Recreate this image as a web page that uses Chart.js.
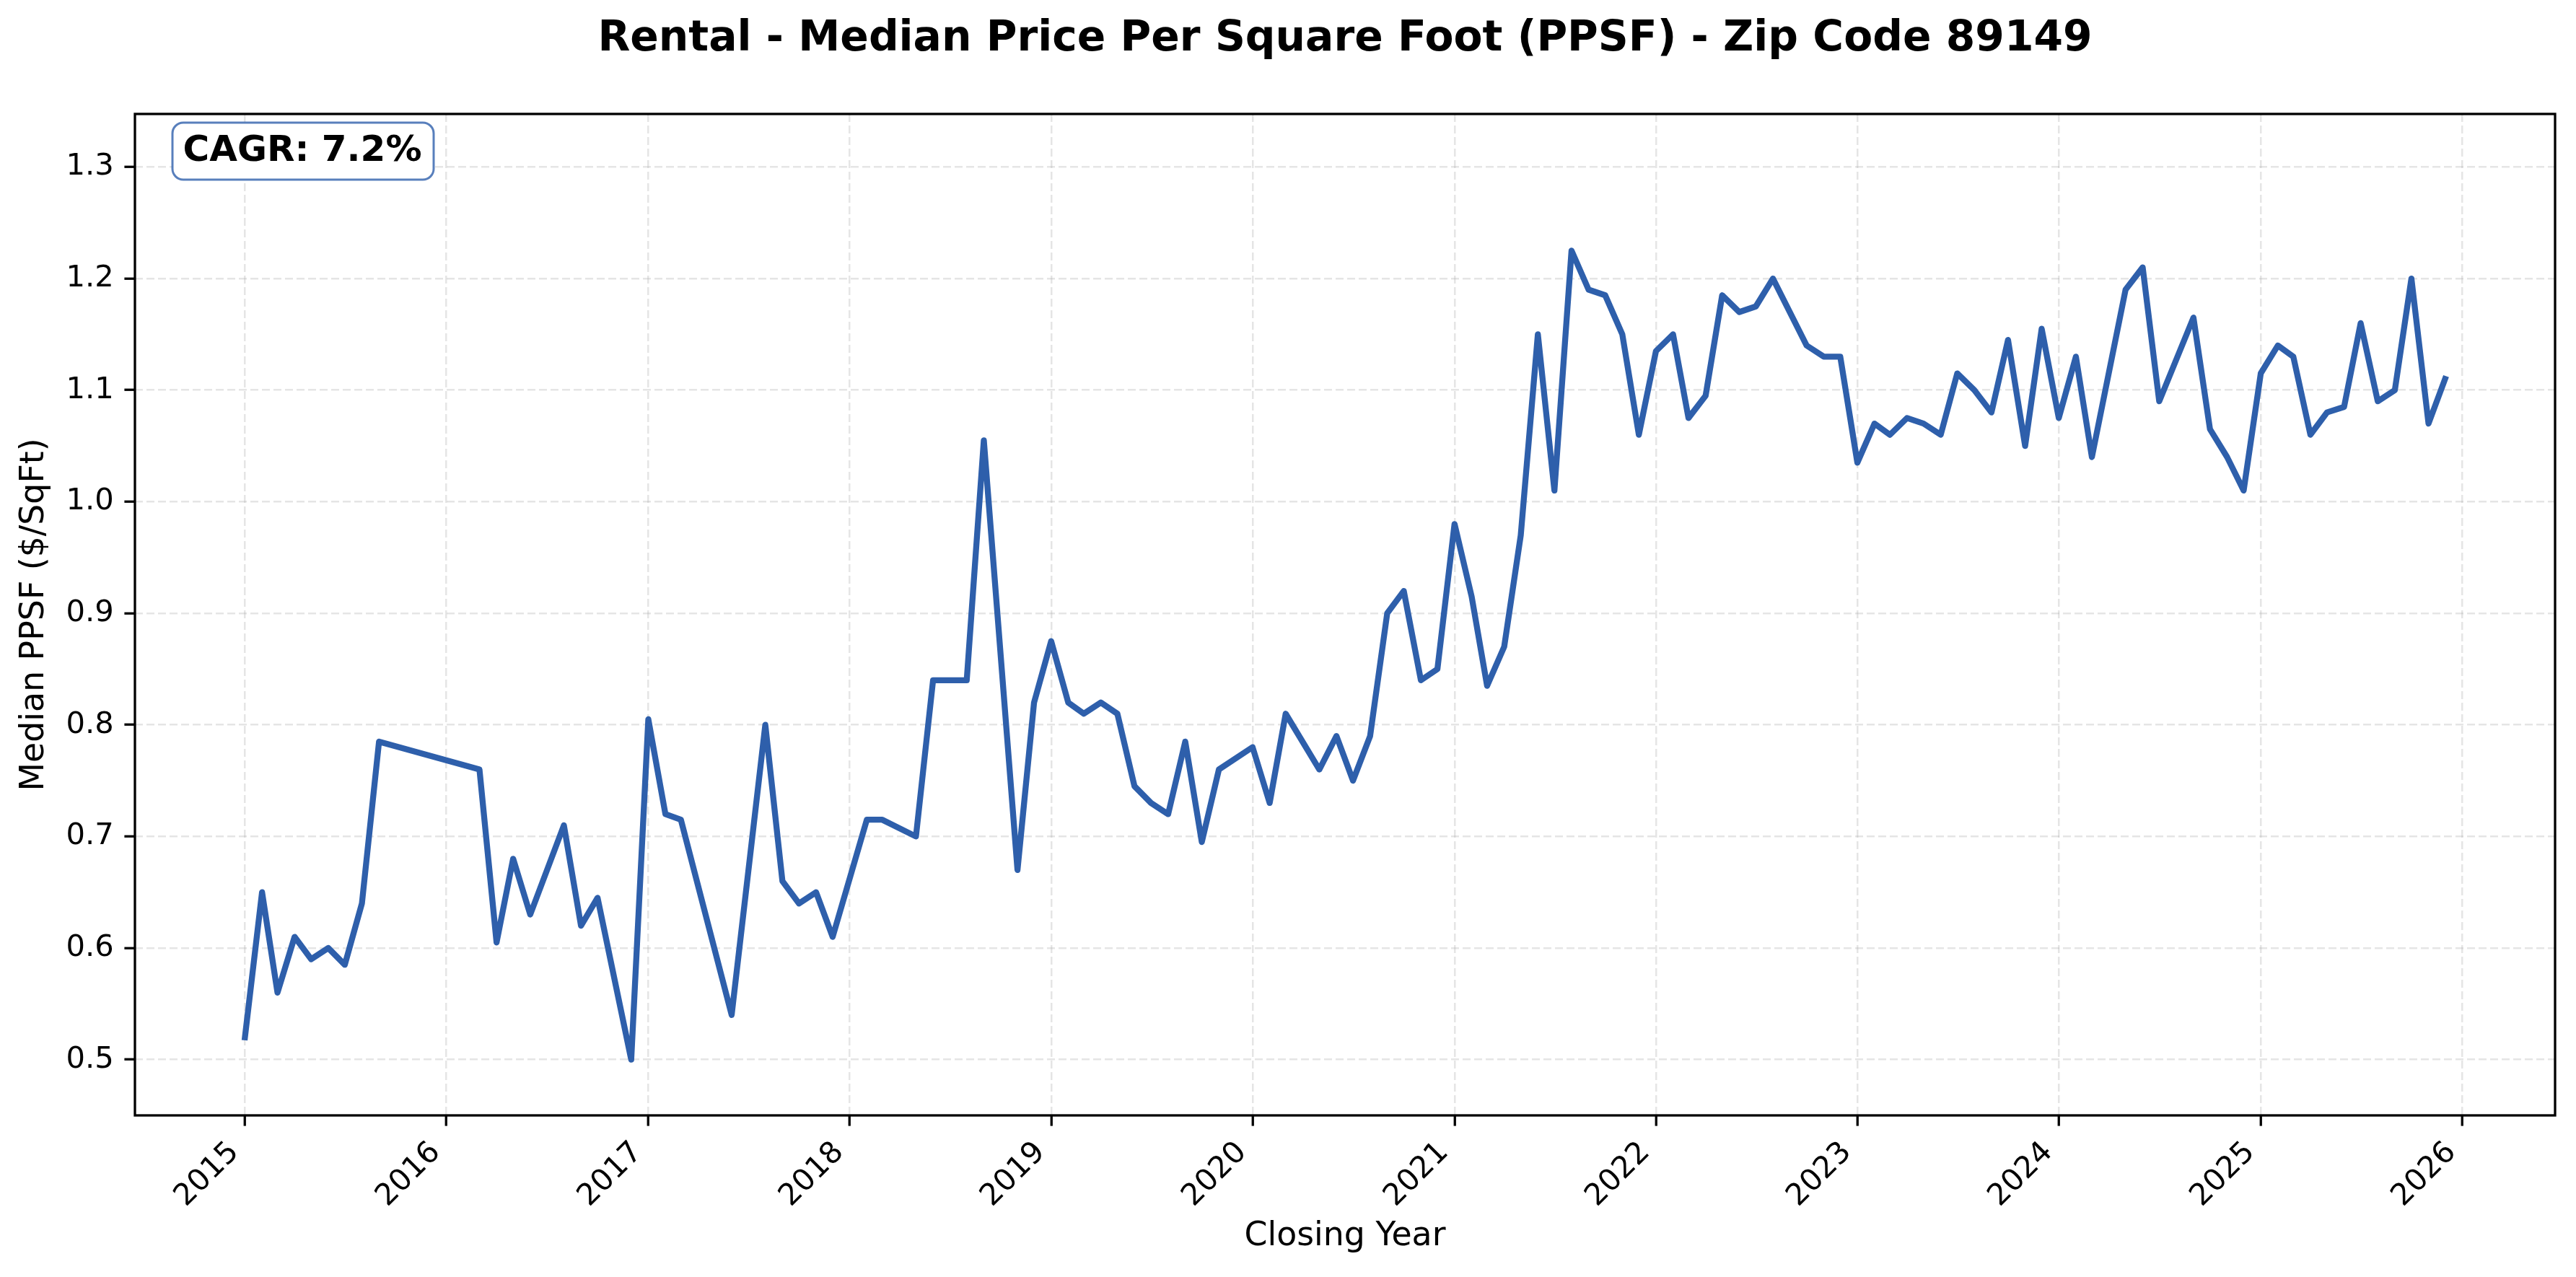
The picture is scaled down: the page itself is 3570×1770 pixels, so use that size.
<!DOCTYPE html>
<html>
<head>
<meta charset="utf-8">
<script src="https://cdn.jsdelivr.net/npm/chart.js@4.4.1/dist/chart.umd.min.js"></script>
<style>
  html, body { margin: 0; padding: 0; background: #ffffff; }
  canvas { display: block; }
</style>
</head>
<body>
<canvas id="c" width="3570" height="1770" style="width:3570px;height:1770px"></canvas>
<script>
// ---- Data ----
const titleText = 'Rental - Median Price Per Square Foot (PPSF) - Zip Code 89149';
const xAxisTitle = 'Closing Year';
const yAxisTitle = 'Median PPSF ($/SqFt)';
const cagrText = 'CAGR: 7.2%';

const months = [
  '2015-01','2015-02','2015-03','2015-04','2015-05','2015-06','2015-07','2015-08','2015-09',
  '2016-03','2016-04','2016-05','2016-06','2016-08','2016-09','2016-10','2016-12',
  '2017-01','2017-02','2017-03','2017-06','2017-08','2017-09','2017-10','2017-11','2017-12',
  '2018-02','2018-03','2018-05','2018-06','2018-08','2018-09','2018-11','2018-12',
  '2019-01','2019-02','2019-03','2019-04','2019-05','2019-06','2019-07','2019-08','2019-09','2019-10','2019-11',
  '2020-01','2020-02','2020-03','2020-05','2020-06','2020-07','2020-08','2020-09','2020-10','2020-11','2020-12',
  '2021-01','2021-02','2021-03','2021-04','2021-05','2021-06','2021-07','2021-08','2021-09','2021-10','2021-11','2021-12',
  '2022-01','2022-02','2022-03','2022-04','2022-05','2022-06','2022-07','2022-08','2022-10','2022-11','2022-12',
  '2023-01','2023-02','2023-03','2023-04','2023-05','2023-06','2023-07','2023-08','2023-09','2023-10','2023-11','2023-12',
  '2024-01','2024-02','2024-03','2024-05','2024-06','2024-07','2024-09','2024-10','2024-11','2024-12',
  '2025-01','2025-02','2025-03','2025-04','2025-05','2025-06','2025-07','2025-08','2025-09','2025-10','2025-11','2025-12'
];

const ppsf = [
  0.52, 0.65, 0.56, 0.61, 0.59, 0.60, 0.585, 0.64, 0.785,
  0.76, 0.605, 0.68, 0.63, 0.71, 0.62, 0.645, 0.50,
  0.805, 0.72, 0.715, 0.54, 0.80, 0.66, 0.64, 0.65, 0.61,
  0.715, 0.715, 0.70, 0.84, 0.84, 1.055, 0.67, 0.82,
  0.875, 0.82, 0.81, 0.82, 0.81, 0.745, 0.73, 0.72, 0.785, 0.695, 0.76,
  0.78, 0.73, 0.81, 0.76, 0.79, 0.75, 0.79, 0.90, 0.92, 0.84, 0.85,
  0.98, 0.915, 0.835, 0.87, 0.97, 1.15, 1.01, 1.225, 1.19, 1.185, 1.15, 1.06,
  1.135, 1.15, 1.075, 1.095, 1.185, 1.17, 1.175, 1.20, 1.14, 1.13, 1.13,
  1.035, 1.07, 1.06, 1.075, 1.07, 1.06, 1.115, 1.10, 1.08, 1.145, 1.05, 1.155,
  1.075, 1.13, 1.04, 1.19, 1.21, 1.09, 1.165, 1.065, 1.04, 1.01,
  1.115, 1.14, 1.13, 1.06, 1.08, 1.085, 1.16, 1.09, 1.10, 1.20, 1.07, 1.11
];

const xTickLabels = ['2015','2016','2017','2018','2019','2020','2021','2022','2023','2024','2025','2026'];
const yTickValues = [0.5, 0.6, 0.7, 0.8, 0.9, 1.0, 1.1, 1.2, 1.3];
const yTickLabels = ['0.5','0.6','0.7','0.8','0.9','1.0','1.1','1.2','1.3'];

// ---- Helpers ----
const DAY = 86400000;
const BASE = Date.UTC(2015, 0, 1);
function toX(ym) {
  const p = ym.split('-').map(Number);
  return 2015 + (Date.UTC(p[0], p[1] - 1, 1) - BASE) / (365.25 * DAY);
}
const xTickValues = xTickLabels.map(y => toX(y + '-01'));
const points = months.map((m, i) => ({ x: toX(m), y: ppsf[i] }));
const xFirst = toX(months[0]), xLast = toX(months[months.length - 1]);
const xSpan = xLast - xFirst;
const xMin = xFirst - 0.05 * xSpan, xMax = xLast + 0.05 * xSpan;
const yMin = Math.min(...ppsf) * 0.9, yMax = Math.max(...ppsf) * 1.1;

const LINE_COLOR = '#2e5fab';
const FONT = 'DejaVu Sans';
const GRID_COLOR = 'rgba(176,176,176,0.33)';

const framePlugin = {
  id: 'frame',
  afterDatasetsDraw(chart) {
    const { ctx, chartArea: a } = chart;
    ctx.save();
    ctx.strokeStyle = '#000000';
    ctx.lineWidth = 3.3;
    ctx.strokeRect(a.left, a.top, a.right - a.left, a.bottom - a.top);
    ctx.restore();
  }
};

const cagrPlugin = {
  id: 'cagrBox',
  afterDraw(chart) {
    const { ctx, chartArea: a } = chart;
    const bx = a.left + 52, by = a.top + 12, bw = 362, bh = 79, r = 15;
    ctx.save();
    ctx.beginPath();
    ctx.roundRect(bx, by, bw, bh, r);
    ctx.fillStyle = '#ffffff';
    ctx.fill();
    ctx.lineWidth = 3;
    ctx.strokeStyle = 'rgba(46,95,171,0.8)';
    ctx.stroke();
    ctx.fillStyle = '#000000';
    ctx.font = 'bold 50px "' + FONT + '"';
    ctx.textAlign = 'left';
    ctx.textBaseline = 'alphabetic';
    ctx.fillText(cagrText, bx + 14.5, by + 53.5);
    ctx.restore();
  }
};

new Chart(document.getElementById('c'), {
  type: 'line',
  data: {
    datasets: [{
      data: points,
      borderColor: LINE_COLOR,
      borderWidth: 8.3,
      pointRadius: 0,
      pointHoverRadius: 0,
      fill: false,
      tension: 0,
      borderJoinStyle: 'round',
      borderCapStyle: 'square'
    }]
  },
  options: {
    responsive: false,
    devicePixelRatio: 1,
    animation: false,
    events: [],
    layout: { padding: { top: 0, left: 0, right: 29, bottom: 0 } },
    plugins: {
      legend: { display: false },
      tooltip: { enabled: false },
      title: {
        display: true,
        text: titleText,
        color: '#000000',
        fullSize: false,
        align: 'center',
        font: { family: FONT, size: 58.3, weight: 'bold', lineHeight: 1.2 },
        padding: { top: 20, bottom: 68 }
      }
    },
    scales: {
      x: {
        type: 'linear',
        position: 'bottom',
        min: xMin,
        max: xMax,
        afterBuildTicks(scale) { scale.ticks = xTickValues.map(v => ({ value: v })); },
        afterFit(scale) { scale.height = 224; },
        ticks: {
          autoSkip: false,
          maxRotation: 45,
          minRotation: 45,
          padding: 12.5,
          labelOffset: -14.6,
          color: '#000000',
          font: { family: FONT, size: 41.7, lineHeight: 1.2 },
          callback(value, index) { return xTickLabels[index]; }
        },
        grid: {
          display: true,
          color: GRID_COLOR,
          lineWidth: 2.5,
          drawTicks: true,
          tickLength: 14.6,
          tickColor: '#000000',
          tickWidth: 3.3,
          tickBorderDash: []
        },
        border: { display: false, dash: [11, 5] },
        title: {
          display: true,
          text: xAxisTitle,
          color: '#000000',
          font: { family: FONT, size: 45.8, lineHeight: 1.2 },
          padding: { top: 0, bottom: 28.5 }
        }
      },
      y: {
        type: 'linear',
        position: 'left',
        min: yMin,
        max: yMax,
        afterBuildTicks(scale) { scale.ticks = yTickValues.map(v => ({ value: v })); },
        afterFit(scale) { scale.width = 187; },
        ticks: {
          padding: 14.6,
          color: '#000000',
          font: { family: FONT, size: 41.7, lineHeight: 1.2 },
          callback(value, index) { return yTickLabels[index]; }
        },
        grid: {
          display: true,
          color: GRID_COLOR,
          lineWidth: 2.5,
          drawTicks: true,
          tickLength: 14.6,
          tickColor: '#000000',
          tickWidth: 3.3,
          tickBorderDash: []
        },
        border: { display: false, dash: [11, 5] },
        title: {
          display: true,
          text: yAxisTitle,
          color: '#000000',
          font: { family: FONT, size: 45.8, lineHeight: 1.2 },
          padding: { top: 20.5, bottom: 0 }
        }
      }
    }
  },
  plugins: [framePlugin, cagrPlugin]
});
</script>
</body>
</html>
